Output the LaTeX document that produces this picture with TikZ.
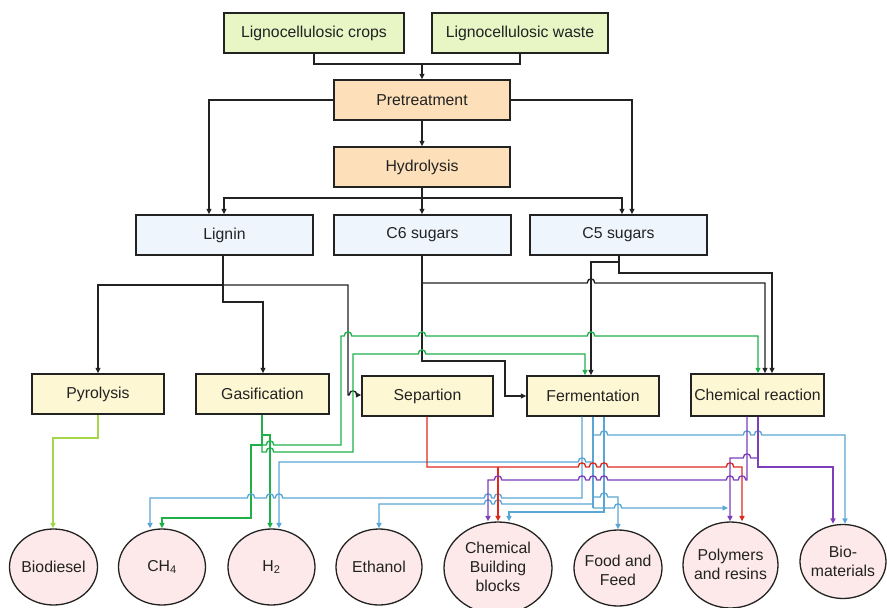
\documentclass[tikz,border=0pt]{standalone}
\usepackage{fontspec}
\setmainfont{Liberation Sans}
\usetikzlibrary{arrows.meta,shapes.geometric}
\definecolor{gboxc}{HTML}{E8F6C6}
\definecolor{pboxc}{HTML}{FDE0BA}
\definecolor{bboxc}{HTML}{EEF5FC}
\definecolor{yboxc}{HTML}{FEF7D4}
\definecolor{eboxc}{HTML}{FDE9E9}
\definecolor{cgrn}{HTML}{1FB04A}
\definecolor{clgrn}{HTML}{A3D64B}
\definecolor{cblu}{HTML}{5AA6D4}
\definecolor{crd}{HTML}{DD2A1F}
\definecolor{cpur}{HTML}{7C3EBA}
\definecolor{ink}{HTML}{222222}
\tikzset{
  hopr/.style 2 args={insert path={-- (#1-3.8,#2) .. controls (#1-3.8,#2-5.5) and (#1+3.8,#2-5.5) .. (#1+3.8,#2)}},
  hopl/.style 2 args={insert path={-- (#1+3.8,#2) .. controls (#1+3.8,#2-5.5) and (#1-3.8,#2-5.5) .. (#1-3.8,#2)}},
  rbox/.style={draw=ink, line width=1.4pt, minimum height=40pt, inner sep=0pt,
    font=\fontsize{15.8}{18}\selectfont, text=ink},
  ell/.style={ellipse, draw=ink, line width=1.3pt, fill=eboxc, inner sep=0pt},
  etxt/.style={align=center, inner sep=0pt, font=\fontsize{15.8}{19}\selectfont, text=ink},
  conn/.style={line width=1.35pt, line join=miter},
  blk/.style={conn, draw=ink},
  grn/.style={conn, draw=cgrn},
  lgrn/.style={conn, draw=clgrn},
  blu/.style={conn, draw=cblu},
  rd/.style={conn, draw=crd},
  pur/.style={conn, draw=cpur},
  >={Triangle[length=5.5pt,width=5pt]}
}
\begin{document}
\begin{tikzpicture}[x=1pt,y=-1pt]
\useasboundingbox (0,0) rectangle (887,608);
% boxes
\node[rbox,fill=gboxc,minimum width=180pt] (crops) at (314,33) {Lignocellulosic crops};
\node[rbox,fill=gboxc,minimum width=176pt] (waste) at (520,33) {Lignocellulosic waste};
\node[rbox,fill=pboxc,minimum width=176pt] (pre) at (422,100) {Pretreatment};
\node[rbox,fill=pboxc,minimum width=176pt] (hyd) at (422,167) {Hydrolysis};
\node[rbox,fill=bboxc,minimum width=177pt] (lignin) at (224.5,235) {Lignin};
\node[rbox,fill=bboxc,minimum width=177pt] (c6) at (422.5,235) {C6 sugars};
\node[rbox,fill=bboxc,minimum width=177pt] (c5) at (618.5,235) {C5 sugars};
\node[rbox,fill=yboxc,minimum width=132pt] (pyro) at (98,394) {Pyrolysis};
\node[rbox,fill=yboxc,minimum width=133pt] (gas) at (262.5,394) {Gasification};
\node[rbox,fill=yboxc,minimum width=131pt] (sep) at (427.5,396) {Separtion};
\node[rbox,fill=yboxc,minimum width=132pt] (ferm) at (593,396) {Fermentation};
\node[rbox,fill=yboxc,minimum width=133pt,minimum height=42pt] (chem) at (757.5,395) {Chemical reaction};
% ellipses
\node[ell,minimum width=88pt,minimum height=76pt] (biod) at (53.5,567) {};
\node[etxt] at (biod.center) {Biodiesel};
\node[ell,minimum width=87pt,minimum height=76pt] (ch4) at (162,567) {};
\node[etxt] at (ch4.center) {CH\textsubscript{4}};
\node[ell,minimum width=87pt,minimum height=76pt] (h2) at (271.5,567) {};
\node[etxt] at (h2.center) {H\textsubscript{2}};
\node[ell,minimum width=86pt,minimum height=76pt] (eth) at (379,567) {};
\node[etxt] at (eth.center) {Ethanol};
\node[ell,minimum width=108pt,minimum height=92pt] (cbb) at (498,568) {};
\node[etxt] at (498,567) {Chemical\\Building\\blocks};
\node[ell,minimum width=88pt,minimum height=76pt] (food) at (618,568) {};
\node[etxt] at (618,570) {Food and\\Feed};
\node[ell,minimum width=95pt,minimum height=86pt] (poly) at (730.5,565) {};
\node[etxt] at (730.5,564) {Polymers\\and resins};
\node[ell,minimum width=86pt,minimum height=74pt] (biom) at (843,561.5) {};
\node[etxt] at (843,561) {Bio-\\materials};
% black connectors
\draw[blk] (crops.south) |- (422,64) -| (waste.south);
\draw[blk,->] (422,64) -- (pre.north);
\draw[blk,->] (pre.south) -- (hyd.north);
\draw[blk,->] (pre.west) -| (lignin.north -| 209,0);
\draw[blk,->] (pre.east) -| (c5.north -| 632,0);
\draw[blk,->] (hyd.south) -- (c6.north -| hyd.south);
\draw[blk,<->] (lignin.north -| 224,0) |- (622,198) -- (c5.north -| 622,0);
\draw[blk,->] (lignin.south -| 223,0) |- (263,302) -- (gas.north -| 263,0);
\draw[blk,->] (223,285) -| (pyro.north);
\draw[blk,->] (223,285) -- (348,285) -- (348,395) [hopr={353}{395}] -- (sep.west |- 0,395);
\draw[blk,->] (c6.south -| 422,0) |- (505,361) |- (ferm.west);
\draw[blk,->] (422,283) [hopr={591}{283}] -- (765,283) -- (chem.north -| 765,0);
\draw[blk,->] (c5.south -| 619,0) |- (772,273) -- (chem.north -| 772,0);
\draw[blk,->] (619,262) -| (ferm.north -| 591,0);
% green (gasification)
\draw[grn,->] (gas.south -| 262,0) |- (270,435) -- (h2.north -| 270,0);
\draw[grn,->] (262,435) -- (262,445) -| (251,518) -| (ch4.north -| 162,0);
\draw[grn,->] (262,445) [hopr={270}{445}] -- (341,445) -- (341,336) [hopr={348}{336}] [hopr={422}{336}] [hopr={591}{336}] -- (758,336) -- (chem.north -| 758,0);
\draw[grn,->] (262,445) -- (262,452) [hopr={270}{452}] -- (353,452) -- (353,354) [hopr={422}{354}] -- (585,354) -- (ferm.north -| 585,0);
% light green (pyrolysis)
\draw[lgrn,->] (pyro.south) |- (53,438) -- (biod.north -| 53,0);
% blue (fermentation)
\draw[blu,->] (ferm.south -| 582,0) -- (582,498) [hopl={498}{498}] [hopl={488}{498}] [hopl={279}{498}] [hopl={270}{498}] [hopl={251}{498}] -- (150,498) -- (ch4.north -| 150,0);
\draw[blu] (ferm.south -| 593,0) -- (593,508);
\draw[blu,->] (593,435) [hopr={604}{435}] [hopr={747}{435}] [hopr={758}{435}] -- (845,435) -- (biom.north -| 845,0);
\draw[blu,->] (593,462) [hopl={582}{462}] -- (279,462) -- (h2.north -| 279,0);
\draw[blu,->] (593,497) [hopr={604}{497}] -- (618,497) -- (food.north -| 618,0);
\draw[blu,->] (593,504) [hopl={498}{504}] [hopl={488}{504}] -- (379,504) -- (eth.north -| 379,0);
\coordinate (pj) at (728,508);
\draw[blu,->] (593,508) [hopr={618}{508}] -- (pj);
\draw[blu,->] (ferm.south -| 604,0) |- (509,512) -- (cbb.north -| 509,0);
% red (separation)
\draw[rd,->] (sep.south -| 427,0) -- (427,467) [hopr={582}{467}] [hopr={593}{467}] [hopr={604}{467}] [hopr={730}{467}] -- (742,467) -- (poly.north -| 742,0);
\draw[rd,->] (498,467) -- (cbb.north -| 498,0);
% purple (chemical reaction)
\draw[pur,->] (chem.south -| 758,0) |- (833,467) -- (biom.north -| 833,0);
\draw[pur,->] (758,458) [hopl={747}{458}] -- (730,458) -- (poly.north -| 730,0);
\draw[pur,->] (chem.south -| 747,0) -- (747,480) [hopl={742}{480}] [hopl={730}{480}] [hopl={604}{480}] [hopl={593}{480}] [hopl={582}{480}] [hopl={498}{480}] -- (488,480) -- (cbb.north -| 488,0);
\end{tikzpicture}
\end{document}
